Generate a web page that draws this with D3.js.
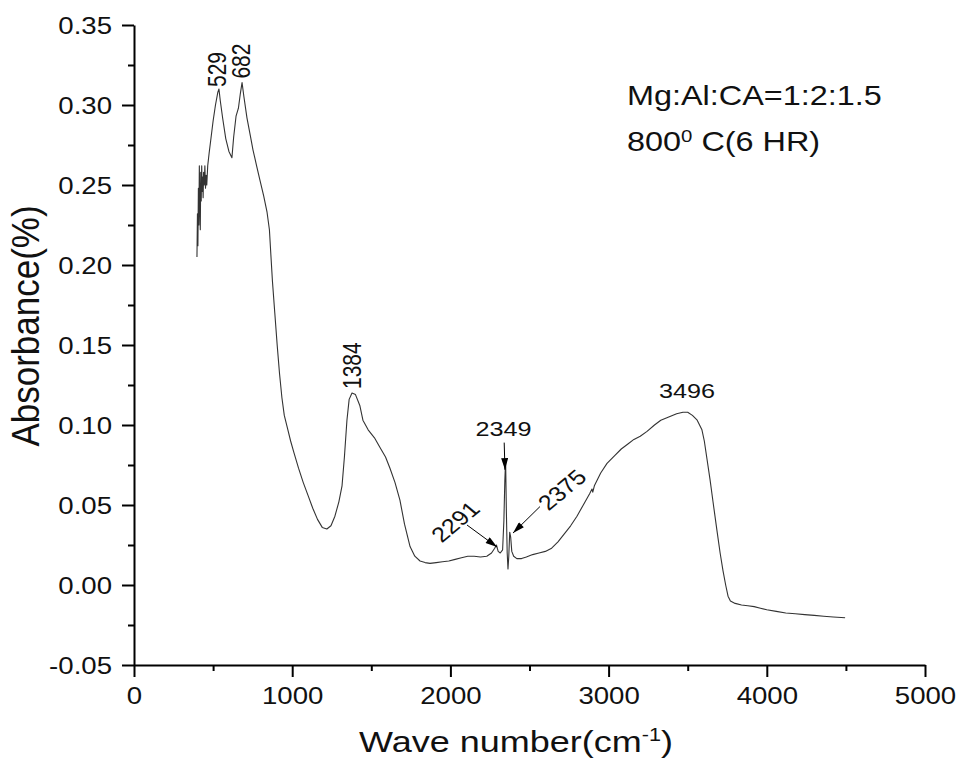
<!DOCTYPE html>
<meta http-equiv="Content-type" content="text/html; charset=UTF-8"/>
<style>
  body { margin: 0; background: #fff; }
  * { font-family: 'Liberation Sans', Arial, sans-serif; }
</style>
<svg width="956" height="766"></svg>
<script src="https://d3js.org/d3.v7.min.js"></script>
<script>
// FTIR spectrum
var waveNumber = [398, 401, 404, 407, 410, 413, 416, 419, 422, 425, 428, 431, 434, 437, 440, 444, 448, 452, 456, 460,
  466, 475, 485, 500, 515, 530, 537, 545, 560, 580, 600, 619, 630, 645, 660, 672, 683, 695, 714, 735,
  752, 775, 796, 820, 841, 856, 866, 875, 890, 905, 920, 935, 950, 970, 990, 1010, 1040, 1070, 1100, 1130,
  1160, 1190, 1219, 1245, 1270, 1295, 1315, 1330, 1346, 1360, 1378, 1400, 1428, 1447, 1480, 1520, 1555, 1590, 1618, 1650,
  1681, 1710, 1745, 1775, 1808, 1840, 1871, 1910, 1950, 1990, 2030, 2070, 2110, 2150, 2190, 2230, 2260, 2280, 2291, 2302,
  2315, 2330, 2338, 2344, 2349, 2354, 2359, 2364, 2369, 2375, 2381, 2388, 2400, 2420, 2450, 2480, 2520, 2560, 2600, 2640,
  2680, 2720, 2760, 2800, 2840, 2880, 2895, 2900, 2910, 2950, 2990, 3040, 3080, 3120, 3160, 3200, 3243, 3290, 3330, 3380,
  3430, 3470, 3500, 3530, 3560, 3590, 3605, 3620, 3641, 3660, 3685, 3705, 3723, 3740, 3755, 3770, 3800, 3840, 3880, 3920,
  3960, 4000, 4060, 4120, 4180, 4240, 4300, 4360, 4420, 4495];
var absorbance = [0.205, 0.232, 0.212, 0.248, 0.225, 0.262, 0.238, 0.222, 0.258, 0.240, 0.262, 0.246, 0.255, 0.242, 0.258, 0.250, 0.262, 0.248, 0.256, 0.250,
  0.262, 0.270, 0.278, 0.290, 0.300, 0.308, 0.310, 0.303, 0.292, 0.279, 0.271, 0.267, 0.280, 0.293, 0.298, 0.307, 0.314, 0.305, 0.292, 0.281,
  0.272, 0.262, 0.253, 0.243, 0.233, 0.222, 0.205, 0.190, 0.170, 0.150, 0.132, 0.117, 0.106, 0.098, 0.090, 0.083, 0.073, 0.064, 0.056, 0.048,
  0.041, 0.036, 0.035, 0.037, 0.043, 0.052, 0.062, 0.080, 0.103, 0.116, 0.120, 0.119, 0.112, 0.103, 0.097, 0.092, 0.086, 0.080, 0.073, 0.064,
  0.053, 0.038, 0.024, 0.018, 0.015, 0.014, 0.0135, 0.014, 0.0145, 0.015, 0.016, 0.017, 0.018, 0.018, 0.0175, 0.018, 0.020, 0.023, 0.025, 0.021,
  0.020, 0.022, 0.040, 0.065, 0.078, 0.045, 0.020, 0.010, 0.018, 0.033, 0.030, 0.021, 0.018, 0.0165, 0.0165, 0.0175, 0.019, 0.020, 0.021, 0.023,
  0.027, 0.032, 0.037, 0.043, 0.050, 0.057, 0.060, 0.058, 0.062, 0.070, 0.076, 0.081, 0.085, 0.088, 0.091, 0.093, 0.096, 0.100, 0.103, 0.105,
  0.107, 0.108, 0.108, 0.106, 0.103, 0.097, 0.090, 0.080, 0.066, 0.052, 0.034, 0.020, 0.009, 0.000, -0.007, -0.010, -0.0115, -0.0125, -0.013, -0.0135,
  -0.0145, -0.0155, -0.0165, -0.0175, -0.018, -0.0185, -0.019, -0.0195, -0.020, -0.0205];

var xTicks = [0, 1000, 2000, 3000, 4000, 5000];
var xMinor = [500, 1500, 2500, 3500, 4500];
var yTicks = [-0.05, 0, 0.05, 0.10, 0.15, 0.20, 0.25, 0.30, 0.35];
var yMinor = [-0.025, 0.025, 0.075, 0.125, 0.175, 0.225, 0.275, 0.325];

var svg = d3.select("svg"),
    margin = {top: 25, right: 31, bottom: 101, left: 134},
    width = +svg.attr("width") - margin.left - margin.right,
    height = +svg.attr("height") - margin.top - margin.bottom,
    g = svg.append("g").attr("transform", "translate(" + margin.left + "," + margin.top + ")");

// the source image is stretched sideways, so text is too
var stretch = "scale(1.2,1)";

var x = d3.scaleLinear().domain([0, 5000]).range([0, width]);
var y = d3.scaleLinear().domain([-0.05, 0.35]).range([height, 0]);

var data = waveNumber.map(function(w, i) { return {w: w, a: absorbance[i]}; });

var line = d3.line()
    .x(function(d) { return x(d.w); })
    .y(function(d) { return y(d.a); });

g.append("path")
    .datum(data)
    .attr("fill", "none")
    .attr("stroke", "#333")
    .attr("stroke-width", 1.1)
    .attr("stroke-linejoin", "round")
    .attr("d", line);

// axes
var xAxis = g.append("g")
    .attr("transform", "translate(0," + height + ")")
    .call(d3.axisBottom(x).tickValues(xTicks).tickSize(12).tickSizeOuter(0).tickFormat(d3.format("d")));
g.append("g")
    .attr("transform", "translate(0," + height + ")")
    .call(d3.axisBottom(x).tickValues(xMinor).tickSize(6).tickSizeOuter(0).tickFormat(""))
    .select(".domain").remove();

var yAxis = g.append("g")
    .call(d3.axisLeft(y).tickValues(yTicks).tickSize(12).tickSizeOuter(0).tickFormat(function(d) { return d.toFixed(2); }));
g.append("g")
    .call(d3.axisLeft(y).tickValues(yMinor).tickSize(6).tickSizeOuter(0).tickFormat(""))
    .select(".domain").remove();

g.selectAll(".domain, .tick line").attr("stroke", "#000").attr("stroke-width", 2);

xAxis.selectAll("text")
    .attr("y", 0).attr("dy", "0.71em")
    .attr("transform", "translate(0,23) " + stretch)
    .style("font-size", "23px").attr("fill", "#111");
yAxis.selectAll("text")
    .attr("x", 0).attr("dy", "0.36em")
    .attr("transform", "translate(-22,0) " + stretch)
    .style("font-size", "23px").attr("fill", "#111");

// axis titles
var xt = svg.append("text")
    .attr("transform", "translate(516,752) " + stretch)
    .attr("text-anchor", "middle")
    .style("font-size", "30px").attr("fill", "#111");
xt.append("tspan").text("Wave number(cm");
xt.append("tspan").attr("dy", -11).style("font-size", "18px").text("-1");
xt.append("tspan").attr("dy", 11).text(")");

svg.append("text")
    .attr("transform", "translate(39,326) scale(1.1,1) rotate(-90)")
    .attr("text-anchor", "middle")
    .style("font-size", "35px").attr("fill", "#111")
    .text("Absorbance(%)");

// peak labels
var peaks = [
  {text: "529", w: 529, a: 0.310, dx: 8, dy: -2, angle: -90, anchor: "start"},
  {text: "682", w: 682, a: 0.314, dx: 8, dy: -4, angle: -90, anchor: "start"},
  {text: "1384", w: 1384, a: 0.120, dx: 8, dy: -4, angle: -90, anchor: "start"},
  {text: "2349", w: 2349, a: 0.078, dx: -2, dy: -24, angle: 0, anchor: "middle"},
  {text: "3496", w: 3496, a: 0.108, dx: 0, dy: -14, angle: 0, anchor: "middle"},
  {text: "2291", w: 1945, a: 0.026, dx: 0, dy: 0, angle: -45, anchor: "start"},
  {text: "2375", w: 2620, a: 0.046, dx: 0, dy: 0, angle: -45, anchor: "start"}
];
g.selectAll(".peak")
  .data(peaks)
  .enter().append("text")
    .attr("class", "peak")
    .attr("transform", function(d) {
      return "translate(" + (x(d.w) + d.dx) + "," + (y(d.a) + d.dy) + ") " + stretch + " rotate(" + d.angle + ")";
    })
    .attr("text-anchor", function(d) { return d.anchor; })
    .style("font-size", "21px").attr("fill", "#111")
    .text(function(d) { return d.text; });

// arrows
svg.append("defs").append("marker")
    .attr("id", "head")
    .attr("viewBox", "0 0 10 6")
    .attr("refX", 10).attr("refY", 3)
    .attr("markerWidth", 14).attr("markerHeight", 7)
    .attr("markerUnits", "userSpaceOnUse")
    .attr("orient", "auto")
  .append("path")
    .attr("d", "M0,0L10,3L0,6Z")
    .attr("fill", "#000");

var arrows = [
  {w0: 2105, a0: 0.0375, w1: 2295, a1: 0.0237},
  {w0: 2566, a0: 0.049, w1: 2396, a1: 0.0325},
  {w0: 2340, a0: 0.089, w1: 2345, a1: 0.072}
];
g.selectAll(".arrow")
  .data(arrows)
  .enter().append("line")
    .attr("class", "arrow")
    .attr("x1", function(d) { return x(d.w0); })
    .attr("y1", function(d) { return y(d.a0); })
    .attr("x2", function(d) { return x(d.w1); })
    .attr("y2", function(d) { return y(d.a1); })
    .attr("stroke", "#000")
    .attr("stroke-width", 1)
    .attr("marker-end", "url(#head)");

// sample note
var note = svg.append("g").attr("transform", "translate(627,105) " + stretch);
note.append("text")
    .style("font-size", "27px").attr("fill", "#111")
    .text("Mg:Al:CA=1:2:1.5");
var t2 = note.append("text")
    .attr("y", 46)
    .style("font-size", "27px").attr("fill", "#111");
t2.append("tspan").text("800");
t2.append("tspan").attr("dy", -9).style("font-size", "17px").text("0");
t2.append("tspan").attr("dy", 9).text(" C(6 HR)");
</script>
